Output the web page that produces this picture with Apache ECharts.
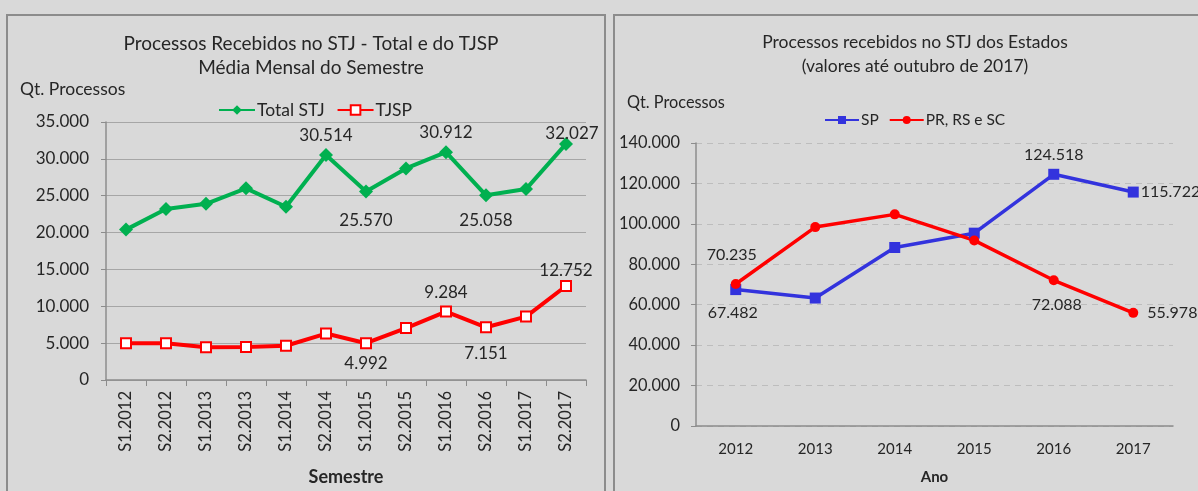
<!DOCTYPE html>
<html>
<head>
<meta charset="utf-8">
<script src="https://cdn.jsdelivr.net/npm/echarts@6/dist/echarts.min.js"></script>
<style>
  html, body { margin: 0; padding: 0; background: #d9d9d9; }
  #chart { width: 1198px; height: 491px; }
</style>
</head>
<body>
<div id="chart"></div>
<script>
// dados - grafico da esquerda (media mensal por semestre)
const semestres = ['S1.2012', 'S2.2012', 'S1.2013', 'S2.2013', 'S1.2014', 'S2.2014',
  'S1.2015', 'S2.2015', 'S1.2016', 'S2.2016', 'S1.2017', 'S2.2017']
const totalStj = [20400, 23200, 23900, 26000, 23500, 30514, 25570, 28700, 30912, 25058, 25900, 32027]
const tjsp = [4980, 4970, 4450, 4480, 4650, 6300, 4992, 7050, 9284, 7151, 8600, 12752]

// dados - grafico da direita (por ano)
const anos = ['2012', '2013', '2014', '2015', '2016', '2017']
const sp = [67482, 63300, 88300, 95400, 124518, 115722]
const prRsSc = [70235, 98400, 104700, 91800, 72088, 55978]

// escalas dos eixos
const leftTicks = [0, 35000, 5000]
const rightTicks = [0, 140000, 20000]

const FONT = 'Lato, "Liberation Sans", sans-serif'
const TXT = '#262626'

function fmt(v) {
  return String(v).replace(/\B(?=(\d{3})+(?!\d))/g, '.')
}

// monta os pontos, mostrando rotulo so nos indices pedidos
function withLabels(values, labels, size) {
  return values.map((v, i) => {
    if (!labels[i]) return v
    return {
      value: v,
      label: Object.assign({
        show: true,
        formatter: p => fmt(p.value),
        color: TXT,
        fontFamily: FONT,
        fontSize: size,
        distance: 10
      }, labels[i])
    }
  })
}

const chart = echarts.init(document.getElementById('chart'))

const option = {
  backgroundColor: '#d9d9d9',
  textStyle: { fontFamily: FONT, color: TXT },
  animation: false,
  graphic: [
    { type: 'rect', shape: { x: 7, y: 15, width: 598, height: 500 },
      style: { fill: 'none', stroke: '#8c8c8c', lineWidth: 2 } },
    { type: 'rect', shape: { x: 614, y: 15, width: 600, height: 500 },
      style: { fill: 'none', stroke: '#8c8c8c', lineWidth: 2 } }
  ],
  title: [
    {
      text: 'Processos Recebidos no STJ - Total e do TJSP\nMédia Mensal do Semestre',
      left: 306, top: 27, textAlign: 'center',
      textStyle: { fontFamily: FONT, fontSize: 19, fontWeight: 'normal', color: TXT, lineHeight: 24 }
    },
    {
      text: 'Qt. Processos', left: 15, top: 75,
      textStyle: { fontFamily: FONT, fontSize: 17.5, fontWeight: 'normal', color: TXT }
    },
    {
      text: 'Processos recebidos no STJ dos Estados\n(valores até outubro de 2017)',
      left: 910, top: 26, textAlign: 'center',
      textStyle: { fontFamily: FONT, fontSize: 17.5, fontWeight: 'normal', color: TXT, lineHeight: 23.5 }
    },
    {
      text: 'Qt. Processos', left: 622, top: 90,
      textStyle: { fontFamily: FONT, fontSize: 16.3, fontWeight: 'normal', color: TXT }
    }
  ],
  legend: [
    {
      data: ['Total STJ', 'TJSP'], left: 213, top: 96,
      itemWidth: 36, itemHeight: 12, itemGap: 12,
      textStyle: { fontFamily: FONT, fontSize: 17.5, color: TXT, padding: [0, 0, 0, -3] }
    },
    {
      data: ['SP', 'PR, RS e SC'], left: 819, top: 107,
      itemWidth: 34, itemHeight: 10, itemGap: 10,
      textStyle: { fontFamily: FONT, fontSize: 15.5, color: TXT, padding: [0, 0, 0, -3] }
    }
  ],
  grid: [
    { left: 106, right: 612, top: 122, bottom: 111 },
    { left: 696, right: 25, top: 143, bottom: 65 }
  ],
  xAxis: [
    {
      type: 'category', gridIndex: 0, data: semestres, boundaryGap: true,
      axisLine: { lineStyle: { color: '#8c8c8c', width: 1.5 } },
      axisTick: { show: true, length: 6, lineStyle: { color: '#8c8c8c' } },
      axisLabel: { rotate: 90, fontSize: 16.5, color: TXT, margin: 11, interval: 0 },
      name: 'Semestre', nameLocation: 'middle', nameGap: 88,
      nameTextStyle: { fontSize: 18, fontWeight: 'bold', color: TXT }
    },
    {
      type: 'category', gridIndex: 1, data: anos, boundaryGap: true,
      axisLine: { lineStyle: { color: '#8c8c8c', width: 1.5 } },
      axisTick: { show: false },
      axisLabel: { fontSize: 15, color: TXT, margin: 16 },
      name: 'Ano', nameLocation: 'middle', nameGap: 44,
      nameTextStyle: { fontSize: 15, fontWeight: 'bold', color: TXT }
    }
  ],
  yAxis: [
    {
      type: 'value', gridIndex: 0, min: leftTicks[0], max: leftTicks[1], interval: leftTicks[2],
      axisLine: { show: true, lineStyle: { color: '#8c8c8c', width: 1.5 } },
      axisTick: { show: true, length: 5, lineStyle: { color: '#8c8c8c' } },
      axisLabel: { fontSize: 17, color: TXT, margin: 17, formatter: fmt },
      splitLine: { lineStyle: { color: '#a6a6a6', width: 1 } }
    },
    {
      type: 'value', gridIndex: 1, min: rightTicks[0], max: rightTicks[1], interval: rightTicks[2],
      axisLine: { show: true, lineStyle: { color: '#8c8c8c', width: 1.5 } },
      axisTick: { show: true, length: 5, lineStyle: { color: '#8c8c8c' } },
      axisLabel: { fontSize: 16.4, color: TXT, margin: 16, formatter: fmt },
      splitLine: { lineStyle: { color: '#bdbdbd', width: 1, type: [6, 5] } }
    }
  ],
  series: [
    {
      name: 'Total STJ', type: 'line', xAxisIndex: 0, yAxisIndex: 0,
      symbol: 'diamond', symbolSize: 14,
      lineStyle: { color: '#00b050', width: 4 },
      itemStyle: { color: '#00b050' },
      data: withLabels(totalStj, {
        5: { position: 'top', distance: 4 },
        6: { position: 'bottom', distance: 14 },
        8: { position: 'top', distance: 4 },
        9: { position: 'bottom', distance: 10 },
        11: { position: 'top', distance: 0, offset: [6, 5] }
      }, 17)
    },
    {
      name: 'TJSP', type: 'line', xAxisIndex: 0, yAxisIndex: 0,
      symbol: 'rect', symbolSize: 10,
      lineStyle: { color: '#ff0000', width: 4 },
      itemStyle: { color: '#ffffff', borderColor: '#ff0000', borderWidth: 2 },
      data: withLabels(tjsp, {
        6: { position: 'bottom', distance: 6 },
        8: { position: 'top', distance: 5 },
        9: { position: 'bottom', distance: 12 },
        11: { position: 'top', distance: 1 }
      }, 17)
    },
    {
      name: 'SP', type: 'line', xAxisIndex: 1, yAxisIndex: 1,
      symbol: 'rect', symbolSize: 11,
      lineStyle: { color: '#3333dd', width: 3.5 },
      itemStyle: { color: '#3333dd' },
      data: withLabels(sp, {
        0: { position: 'bottom', distance: 10, offset: [-3, 0] },
        4: { position: 'top', distance: 6 },
        5: { position: 'right', distance: 2 }
      }, 16)
    },
    {
      name: 'PR, RS e SC', type: 'line', xAxisIndex: 1, yAxisIndex: 1,
      symbol: 'circle', symbolSize: 10,
      lineStyle: { color: '#ff0000', width: 3.5 },
      itemStyle: { color: '#ff0000' },
      data: withLabels(prRsSc, {
        0: { position: 'top', distance: 16, offset: [-4, 0] },
        4: { position: 'bottom', distance: 12, offset: [3, 0] },
        5: { position: 'right', distance: 9 }
      }, 16)
    }
  ]
}

chart.setOption(option)

window.addEventListener('resize', () => {
  chart.resize()
})
</script>
</body>
</html>
